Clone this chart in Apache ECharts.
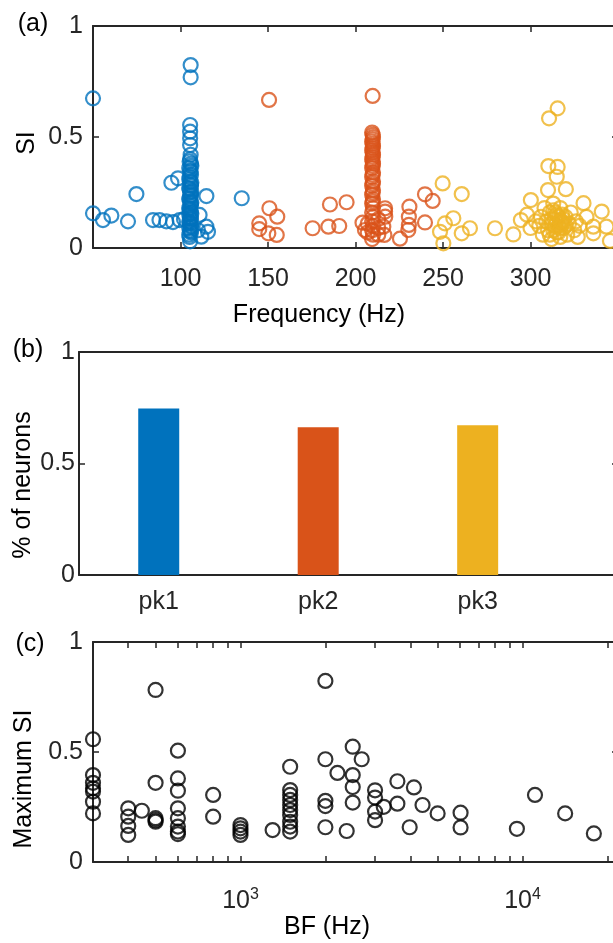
<!DOCTYPE html>
<html>
<head>
<meta charset="utf-8">
<script src="https://cdn.jsdelivr.net/npm/echarts@6/dist/echarts.min.js"></script>
<style>
html, body { margin: 0; padding: 0; background: #fff; }
#chart { width: 613px; height: 943px; }
</style>
</head>
<body>
<div id="chart"></div>
<script>
// (a) SI vs frequency, one group per peak
const pk1Freq = [50, 50, 55.7, 60.5, 70, 74.8, 84.3, 88, 91.9, 94.8, 95.7, 98.6, 99.5, 102,
    105.8, 105.8, 105.5, 105.5, 105.5, 105.5,
    105.5, 106, 105, 105.5, 106, 105, 105.5, 106, 105, 105.5, 106, 105, 105.5, 106,
    105, 105.5, 106, 105, 105.5, 106, 105, 105.5, 106, 105, 105.5, 106, 105, 105.5,
    105.8, 105.2, 106.2, 105.8, 105.2, 106.2, 105.8, 105.2, 106.2, 105.8, 105.2, 106.2,
    105.8, 105.2, 106.2, 105.8, 105.2, 106.2, 105.8, 105.2,
    110.9, 110, 111.9, 114.8, 114.8, 115.7, 135];
const pk1SI = [0.674, 0.156, 0.126, 0.146, 0.12, 0.243, 0.126, 0.126, 0.12, 0.294, 0.117, 0.314, 0.126, 0.13,
    0.824, 0.769, 0.554, 0.524, 0.494, 0.464,
    0.40, 0.38, 0.36, 0.35, 0.33, 0.31, 0.30, 0.28, 0.27, 0.25, 0.24, 0.22, 0.21, 0.20,
    0.18, 0.17, 0.16, 0.15, 0.14, 0.13, 0.12, 0.11, 0.10, 0.09, 0.08, 0.07, 0.06, 0.03,
    0.42, 0.39, 0.37, 0.345, 0.32, 0.295, 0.285, 0.265, 0.255, 0.235, 0.225, 0.205,
    0.19, 0.175, 0.155, 0.135, 0.115, 0.095, 0.075, 0.05,
    0.149, 0.08, 0.051, 0.234, 0.096, 0.073, 0.224];

const pk2Freq = [145, 145, 150.6, 150.8, 150.2, 155.3, 155, 175.5, 184.5, 185.4, 190.7, 194.9, 204, 205.4,
    209.8, 209.5, 210, 209.5, 210, 209.5, 210, 209.5, 210, 209.5, 210, 209.5, 210,
    209.5, 210, 209.5, 210, 209.5, 210, 209.5, 210, 209.5, 210, 209.5, 210, 209.5,
    209.8, 209.8, 209.8, 209.8, 209.8, 209.8, 209.8, 209.8, 209.8, 209.8, 209.8, 209.8,
    213, 213, 213, 207, 207,
    216.9, 216.9, 217, 215.9, 216.5, 225.4, 230.8, 230.5, 230.5, 230.2, 239.7, 244.1, 239.7];
const pk2SI = [0.111, 0.085, 0.667, 0.179, 0.066, 0.141, 0.059, 0.089, 0.096, 0.196, 0.099, 0.206, 0.114, 0.081,
    0.685, 0.52, 0.50, 0.48, 0.46, 0.44, 0.42, 0.40, 0.38, 0.36, 0.34, 0.32, 0.30,
    0.28, 0.26, 0.24, 0.22, 0.20, 0.18, 0.16, 0.14, 0.12, 0.10, 0.08, 0.06, 0.04,
    0.51, 0.49, 0.47, 0.45, 0.43, 0.41, 0.39, 0.37, 0.33, 0.29, 0.25, 0.21,
    0.13, 0.09, 0.06, 0.11, 0.07,
    0.179, 0.164, 0.141, 0.096, 0.059, 0.042, 0.186, 0.141, 0.104, 0.081, 0.242, 0.212, 0.115];

const pk3Freq = [248.3, 249.8, 250.2, 251.1, 255.9, 260.7, 260.7, 265.4, 279.7, 290.2, 294.5, 300.2,
    310.6, 315.5, 310.2, 315.5, 315, 310, 320.2, 330.3, 340.7, 335.9, 335.9, 343.4, 345.4, 332,
    305, 306, 307, 308, 309, 310, 311, 312, 312, 313, 314, 315, 315, 316, 317, 317,
    318, 319, 320, 321, 322, 323, 325, 326, 328, 303, 300, 298, 327,
    312, 314, 316, 318, 313, 315, 317, 319, 311, 314, 316, 318, 320, 313, 317];
const pk3SI = [0.073, 0.291, 0.021, 0.111, 0.134, 0.243, 0.066, 0.089, 0.089, 0.061, 0.126, 0.216,
    0.584, 0.629, 0.369, 0.365, 0.321, 0.261, 0.265, 0.202, 0.164, 0.096, 0.066, 0.096, 0.032, 0.14,
    0.10, 0.14, 0.06, 0.18, 0.12, 0.08, 0.16, 0.04, 0.11, 0.20, 0.13, 0.07, 0.15, 0.10, 0.05, 0.18,
    0.12, 0.09, 0.14, 0.06, 0.11, 0.16, 0.08, 0.12, 0.10, 0.12, 0.09, 0.15, 0.05,
    0.13, 0.10, 0.14, 0.11, 0.08, 0.12, 0.09, 0.13, 0.06, 0.16, 0.07, 0.15, 0.10, 0.17, 0.12];

const freqTicks = [100, 150, 200, 250, 300];

// (b) fraction of neurons per peak
const barCats = ['pk1', 'pk2', 'pk3'];
const barValues = [0.747, 0.662, 0.671];

// (c) maximum SI vs best frequency
const bfHz = [300, 300, 300, 300, 300, 300, 300,
    400, 400, 400, 400, 447,
    500, 500, 500, 500, 500,
    600, 600, 600, 600, 600, 600, 600, 600,
    800, 800, 1000, 1000, 1000, 1000, 1300,
    1500, 1500, 1500, 1500, 1500, 1500, 1500, 1500, 1500, 1500,
    2000, 2000, 2000, 2000, 2000, 2207, 2380,
    2500, 2500, 2500, 2500, 2690, 3000, 3000, 3000, 3000, 3220,
    3600, 3600, 4120, 3980, 4420, 5000, 6030, 6030, 9550, 11070, 14160, 17900];
const maxSI = [0.558, 0.395, 0.36, 0.335, 0.32, 0.274, 0.221,
    0.244, 0.206, 0.164, 0.123, 0.233,
    0.782, 0.36, 0.199, 0.183, 0.19,
    0.506, 0.38, 0.324, 0.244, 0.199, 0.161, 0.138, 0.127,
    0.305, 0.206, 0.168, 0.153, 0.138, 0.123, 0.145,
    0.433, 0.327, 0.305, 0.282, 0.259, 0.236, 0.214, 0.183, 0.161, 0.138,
    0.823, 0.467, 0.278, 0.254, 0.158, 0.405, 0.141,
    0.524, 0.395, 0.341, 0.27, 0.467, 0.326, 0.293, 0.229, 0.19, 0.251,
    0.367, 0.265, 0.339, 0.158, 0.259, 0.221, 0.224, 0.157, 0.151, 0.305, 0.221, 0.13];

const bfTicks = [300, 400, 500, 600, 700, 800, 900, 1000, 2000, 3000, 4000, 5000,
    6000, 7000, 8000, 9000, 10000, 20000];
const bfLabels = [1000, 10000];

const FONT = '"Liberation Sans", Arial, Helvetica, sans-serif';
const AXIS_COLOR = '#262626';
const COLORS = ['#0072BD', '#D95319', '#EDB120'];
const TICK_SIZE = 25;
const LABEL_SIZE = 25;

function zip(xs, ys) {
    return xs.map((x, i) => [x, ys[i]]);
}

// 坐标轴公共样式（MATLAB 风格：框线 + 向内刻度）
function boxAxis(opts) {
    return Object.assign({
        axisLine: { show: true, onZero: false, lineStyle: { color: AXIS_COLOR, width: 2 } },
        axisTick: { show: true, inside: true, length: 6, lineStyle: { color: AXIS_COLOR, width: 1.5 } },
        axisLabel: { show: false },
        splitLine: { show: false },
        silent: true
    }, opts);
}

function tickLabel(margin, extra) {
    return Object.assign({
        show: true, margin: margin, color: AXIS_COLOR,
        fontFamily: FONT, fontSize: TICK_SIZE
    }, extra);
}

function siAxis(gridIndex, position, margin) {
    return boxAxis({
        type: 'value', gridIndex: gridIndex, position: position,
        min: 0, max: 1, interval: 0.5,
        axisLabel: position === 'left' ? tickLabel(margin) : { show: false }
    });
}

function scatterSeries(data, color, xi, yi) {
    return {
        type: 'scatter', xAxisIndex: xi, yAxisIndex: yi,
        data: data, symbol: 'circle', symbolSize: 14,
        itemStyle: { color: 'rgba(0,0,0,0)', borderColor: color, borderWidth: 2.2 },
        silent: true
    };
}

function text(str, x, y, rot) {
    return {
        type: 'text', x: x, y: y, rotation: rot || 0, silent: true,
        style: {
            text: str, fill: '#000', font: LABEL_SIZE + 'px ' + FONT,
            align: 'center', verticalAlign: 'middle'
        }
    };
}

const chart = echarts.init(document.getElementById('chart'), null, { renderer: 'canvas' });

const option = {
    animation: false,
    backgroundColor: '#fff',
    grid: [
        { left: 93, top: 26, width: 525, height: 222, outerBoundsMode: 'none' },
        { left: 79, top: 352, width: 539, height: 223, outerBoundsMode: 'none' },
        { left: 93, top: 642, width: 525, height: 220, outerBoundsMode: 'none' }
    ],
    xAxis: [
        boxAxis({
            type: 'value', gridIndex: 0, position: 'bottom', min: 50, max: 350,
            axisTick: { show: true, inside: true, length: 6, customValues: freqTicks,
                lineStyle: { color: AXIS_COLOR, width: 1.5 } },
            axisLabel: tickLabel(19, { customValues: freqTicks })
        }),
        boxAxis({
            type: 'value', gridIndex: 0, position: 'top', min: 50, max: 350,
            axisTick: { show: true, inside: true, length: 6, customValues: freqTicks,
                lineStyle: { color: AXIS_COLOR, width: 1.5 } }
        }),
        boxAxis({
            type: 'value', gridIndex: 1, position: 'bottom', min: 0.5, max: 3.88,
            axisTick: { show: false },
            axisLabel: tickLabel(15, {
                customValues: barCats.map((c, i) => i + 1),
                formatter: v => barCats[Math.round(v) - 1]
            })
        }),
        boxAxis({
            type: 'value', gridIndex: 1, position: 'top', min: 0.5, max: 3.88,
            axisTick: { show: false }
        }),
        boxAxis({
            type: 'log', logBase: 10, gridIndex: 2, position: 'bottom', min: 300, max: 21800,
            axisTick: { show: true, inside: true, length: 6, customValues: bfTicks,
                lineStyle: { color: AXIS_COLOR, width: 1.5 } },
            axisLabel: tickLabel(24, {
                customValues: bfLabels,
                formatter: v => '{b|10}{s|' + Math.round(Math.log10(v)) + '}',
                rich: {
                    b: { fontFamily: FONT, fontSize: TICK_SIZE, color: AXIS_COLOR, verticalAlign: 'bottom', lineHeight: 28 },
                    s: { fontFamily: FONT, fontSize: 16, color: AXIS_COLOR, verticalAlign: 'bottom', lineHeight: 16, padding: [0, 0, 11, 0] }
                }
            })
        }),
        boxAxis({
            type: 'log', logBase: 10, gridIndex: 2, position: 'top', min: 300, max: 21800,
            axisTick: { show: true, inside: true, length: 6, customValues: bfTicks,
                lineStyle: { color: AXIS_COLOR, width: 1.5 } }
        })
    ],
    yAxis: [
        siAxis(0, 'left', 10), siAxis(0, 'right'),
        siAxis(1, 'left', 4), siAxis(1, 'right'),
        siAxis(2, 'left', 10), siAxis(2, 'right')
    ],
    series: [
        scatterSeries(zip(pk1Freq, pk1SI), COLORS[0], 0, 0),
        scatterSeries(zip(pk2Freq, pk2SI), COLORS[1], 0, 0),
        scatterSeries(zip(pk3Freq, pk3SI), COLORS[2], 0, 0),
        {
            type: 'bar', xAxisIndex: 2, yAxisIndex: 2, barWidth: 41, silent: true,
            data: barValues.map((v, i) => ({ value: [i + 1, v], itemStyle: { color: COLORS[i] } }))
        },
        scatterSeries(zip(bfHz, maxSI), '#000', 4, 4)
    ],
    graphic: [
        text('(a)', 33, 24), text('(b)', 28, 350), text('(c)', 30, 644),
        text('SI', 27, 143, Math.PI / 2),
        text('% of neurons', 23, 485, Math.PI / 2),
        text('Maximum SI', 24, 779, Math.PI / 2),
        text('Frequency (Hz)', 319, 315),
        text('BF (Hz)', 327, 927)
    ]
};

chart.setOption(option);
</script>
</body>
</html>
